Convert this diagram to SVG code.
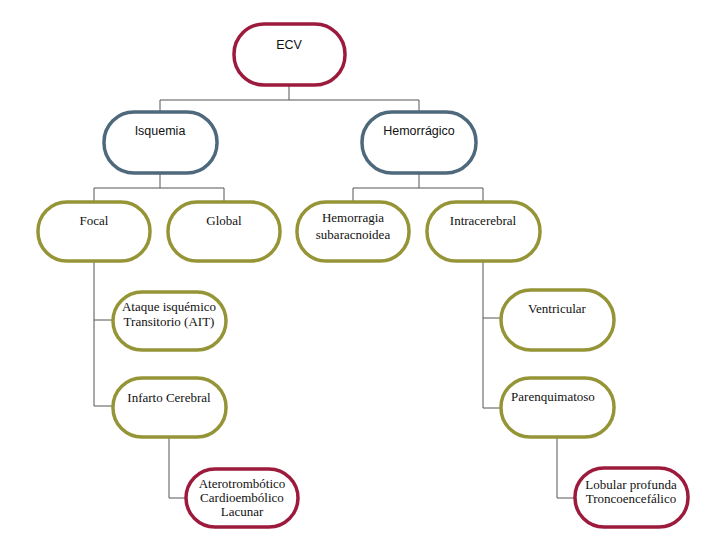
<svg xmlns="http://www.w3.org/2000/svg" width="720" height="540" viewBox="0 0 720 540">
<style>
.box{fill:#fff;stroke-width:3.5}
.r{stroke:#9c1b3d}
.b{stroke:#4e687c}
.o{stroke:#959538}
.sans{font-family:"Liberation Sans",Arial,sans-serif;font-size:12.5px;fill:#111;text-anchor:middle}
.ser{font-family:"Liberation Serif","Times New Roman",serif;font-size:13px;fill:#111;text-anchor:middle}
.c{fill:none;stroke:#555;stroke-width:1}
</style>
<rect width="720" height="540" fill="#fff"/>
<g id="connectors">
<path class="c" d="M289,85 V100 M160,112 V100 H419 V112"/>
<path class="c" d="M160,173 V188 M94,201 V188 H224 V201"/>
<path class="c" d="M419,173 V188 M353,201 V188 H483 V201"/>
<path class="c" d="M94,261 V406 H113 M94,320 H113"/>
<path class="c" d="M483,261 V408 H501 M483,318 H501"/>
<path class="c" d="M169,437 V498 H186"/>
<path class="c" d="M557,437 V498 H575"/>
</g>
<g id="ecv"><rect class="box r" x="234" y="24" width="111" height="61" rx="30"/><text class="sans" x="289" y="49">ECV</text></g>
<g id="isquemia"><rect class="box b" x="104" y="112" width="113" height="61" rx="30"/><text class="sans" x="160" y="135">Isquemia</text></g>
<g id="hemorragico"><rect class="box b" x="362" y="112" width="114" height="61" rx="30"/><text class="sans" x="419" y="135">Hemorrágico</text></g>
<g id="focal"><rect class="box o" x="38" y="202" width="112" height="59" rx="29"/><text class="ser" x="94" y="225">Focal</text></g>
<g id="global"><rect class="box o" x="168" y="202" width="112" height="59" rx="29"/><text class="ser" x="224" y="225">Global</text></g>
<g id="subaracnoidea"><rect class="box o" x="297" y="202" width="112" height="59" rx="29"/><text class="ser" x="353" y="222">Hemorragia</text><text class="ser" x="353" y="239">subaracnoidea</text></g>
<g id="intracerebral"><rect class="box o" x="427" y="202" width="113" height="59" rx="29"/><text class="ser" x="483" y="225">Intracerebral</text></g>
<g id="ait"><rect class="box o" x="113" y="292" width="113" height="58" rx="29"/><text class="ser" x="169" y="311">Ataque isquémico</text><text class="ser" x="169" y="326">Transitorio (AIT)</text></g>
<g id="infarto"><rect class="box o" x="113" y="378" width="113" height="59" rx="29"/><text class="ser" x="169" y="402">Infarto Cerebral</text></g>
<g id="ventricular"><rect class="box o" x="501" y="290" width="113" height="60" rx="30"/><text class="ser" x="557" y="313">Ventricular</text></g>
<g id="parenquimatoso"><rect class="box o" x="501" y="378" width="113" height="59" rx="29"/><text class="ser" x="553" y="401">Parenquimatoso</text></g>
<g id="aterotrombotico"><rect class="box r" x="186" y="469" width="112" height="58" rx="29"/><text class="ser" x="242" y="488">Aterotrombótico</text><text class="ser" x="242" y="502">Cardioembólico</text><text class="ser" x="242" y="516">Lacunar</text></g>
<g id="lobular"><rect class="box r" x="575" y="468" width="113" height="59" rx="29"/><text class="ser" x="631" y="489">Lobular profunda</text><text class="ser" x="631" y="503">Troncoencefálico</text></g>
</svg>
